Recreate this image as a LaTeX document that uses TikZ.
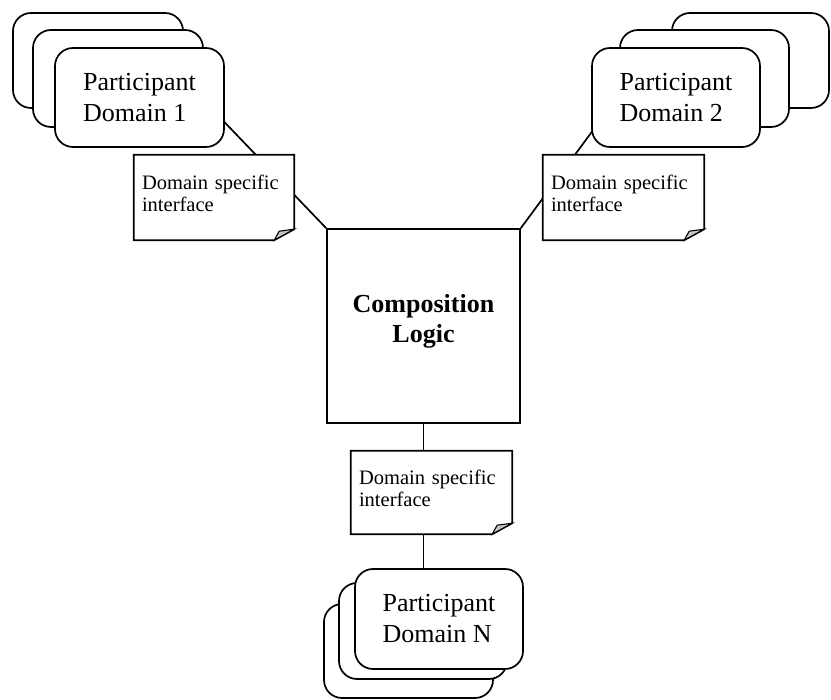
\documentclass[tikz,border=0pt]{standalone}
\usepackage{fontspec}
\setmainfont{Liberation Serif}
\usetikzlibrary{calc,backgrounds}

\tikzset{
  domainbox/.style={draw, fill=white, rounded corners=18, line width=1.7pt,
    align=left, font=\fontsize{26}{31}\selectfont, inner sep=0pt},
  notebox/.style={minimum width=#1, minimum height=85, inner sep=0pt,
    align=left, text width=#1-16, font=\fontsize{20.5}{22}\selectfont},
  notebox/.default=160,
  notestroke/.style={draw, fill=white, line width=1.7pt, line join=miter},
  foldstroke/.style={draw, fill=gray!45, line width=1.1pt},
  logicbox/.style={draw, fill=white, line width=1.7pt, minimum width=193, minimum height=194},
  wire/.style={line width=1.7pt}
}

% folded-corner outline drawn around a named note node
\newcommand\foldnote[1]{%
  \path[notestroke] (#1.north west) -- (#1.north east)
    -- ($(#1.south east)+(0,-11)$) -- ($(#1.south east)+(-20,0)$)
    -- (#1.south west) -- cycle;
  \path[foldstroke] ($(#1.south east)+(-20,0)$) -- ($(#1.south east)+(-15,-9)$)
    -- ($(#1.south east)+(0,-11)$) -- cycle;
}

\begin{document}
\begin{tikzpicture}[x=1pt, y=-1pt]
\useasboundingbox (0,0) rectangle (831,700);

% central composition block
\node[logicbox] (comp) at (423.5,326) {};
\node[font=\fontsize{26}{30}\selectfont\bfseries, align=center] (comptext)
  at (423.5,321) {Composition\\Logic};

% participant domain 1 (stack of three)
\node[domainbox, minimum width=170, minimum height=95] (d1c) at (98,60.5) {};
\node[domainbox, minimum width=170, minimum height=97] (d1b) at (118,78.5) {};
\node[domainbox, minimum width=169, minimum height=99] (d1a) at (139.5,97.5) {Participant\\Domain 1};

% participant domain 2 (stack of three)
\node[domainbox, minimum width=157, minimum height=95] (d2c) at (750.5,60.5) {};
\node[domainbox, minimum width=169, minimum height=97] (d2b) at (704.5,78.5) {};
\node[domainbox, minimum width=168, minimum height=99] (d2a) at (676,97.5) {Participant\\Domain 2};

% participant domain N (stack of three)
\node[domainbox, minimum width=169, minimum height=94] (dNc) at (408.5,651) {};
\node[domainbox, minimum width=168, minimum height=96] (dNb) at (423,631) {};
\node[domainbox, minimum width=168, minimum height=100] (dNa) at (439,619) {Participant\\Domain N};

% interface notes
\node[notebox] (n1) at (214,197.5) {};
\foldnote{n1}
\node[notebox] (n1t) at (214,193) {Domain specific\\interface};

\node[notebox=161] (n2) at (623.5,197.5) {};
\foldnote{n2}
\node[notebox=161] (n2t) at (623.5,193) {Domain specific\\interface};

\node[notebox=161, minimum height=83] (nN) at (431.5,492.5) {};
\foldnote{nN}
\node[notebox=161] (nNt) at (431.5,488) {Domain specific\\interface};

% connectors behind the boxes and notes
\begin{pgfonlayer}{background}
  \coordinate (d1in) at ($(d1a.east)+(-24,0)$);
  \coordinate (d2in) at ($(d2a.west)+(26,0)$);
  \draw[wire] (comp.north west) -- (d1in);
  \draw[wire] (comp.north east) -- (d2in);
  \draw[wire] (comp.south) -- (comp.south |- dNa.north);
\end{pgfonlayer}
\end{tikzpicture}
\end{document}
